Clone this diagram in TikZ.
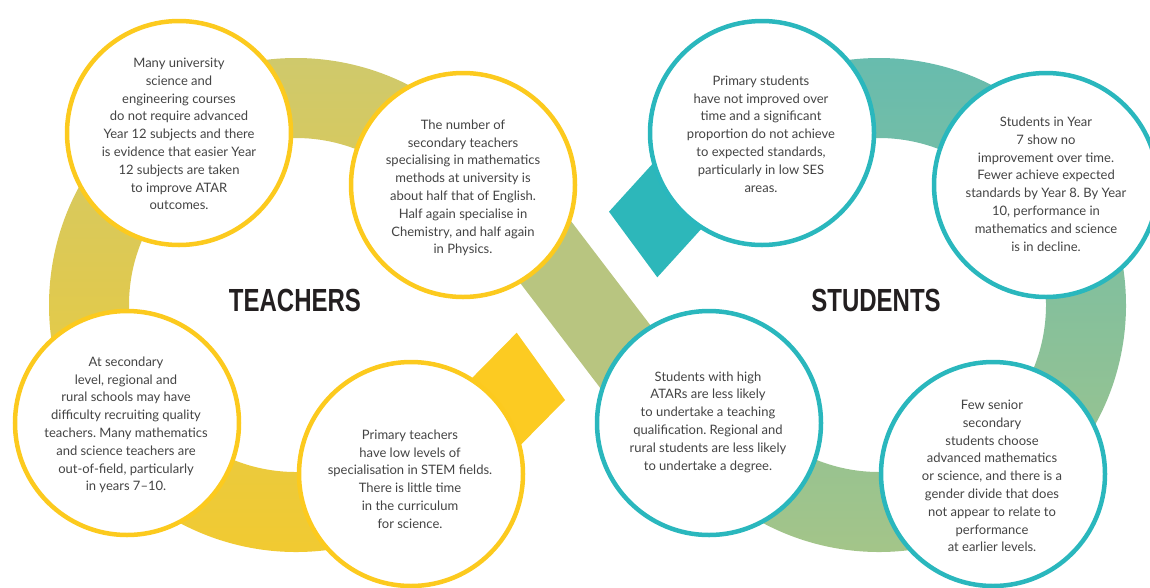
\documentclass[tikz,border=0pt]{standalone}
\usepackage{fontspec}
\setmainfont{Lato}
\newfontfamily\titlefont{Liberation Sans}
\usepackage{graphicx}
\definecolor{tyel}{HTML}{FCCA1E}
\definecolor{tteal}{HTML}{2AB7BD}
\definecolor{ringTtop}{HTML}{CDC96F}
\definecolor{ringTbot}{HTML}{F2CA30}
\definecolor{ringStop}{HTML}{64BBB0}
\definecolor{ringSbot}{HTML}{A5C588}
\definecolor{crossband}{HTML}{B8C580}
\definecolor{yend}{HTML}{FCCB22}
\definecolor{tend}{HTML}{2DB7BA}
\definecolor{txt}{HTML}{444444}
\definecolor{ttl}{HTML}{231F20}
\begin{document}
\frenchspacing
\begin{tikzpicture}[x=1pt,y=-1pt,
  bubble/.style={circle, minimum size=224, inner sep=0, line width=4.5, fill=white},
  ybub/.style={bubble, draw=tyel},
  tbub/.style={bubble, draw=tteal},
  body/.style={align=center, font=\fontsize{13}{17.8}\selectfont\frenchspacing, text=txt, inner sep=0},
  title/.style={font=\titlefont\bfseries\fontsize{32}{32}\selectfont, text=ttl, inner sep=0}]
\useasboundingbox (0,0) rectangle (1150,587);
\clip (0,0) rectangle (1150,587);
% rings
\begin{scope}[shift={(296,305)}]
\shade[top color=ringTtop, bottom color=ringTbot] (-40:247) arc[start angle=-40,end angle=-320,radius=247] -- (-320:167) arc[start angle=-320,end angle=-40,radius=167] -- cycle;
\end{scope}
\begin{scope}[shift={(879,305)}]
\shade[top color=ringStop, bottom color=ringSbot] (-140:247) arc[start angle=-140,end angle=140,radius=247] -- (140:167) arc[start angle=140,end angle=-140,radius=167] -- cycle;
\end{scope}
% crossing band
\fill[crossband] (538.2,178.1) -- (695.8,384.8) -- (633.8,432) -- (476.2,225.3) -- cycle;
% band ends
\fill[yend] (516.7,332.7) -- (565,400) -- (495,471) -- (446.7,403.7) -- cycle;
\fill[tend] (609,211.7) -- (657.3,277.3) -- (724.6,203.3) -- (676.3,137.7) -- cycle;
% bubbles
\node[ybub] (c1) at (179,133) {};
\node[ybub] (c2) at (463,185) {};
\node[ybub] (c3) at (127,423) {};
\node[ybub] (c4) at (411,474) {};
\node[tbub] (c5) at (762,133) {};
\node[tbub] (c6) at (1046,185) {};
\node[tbub] (c7) at (709,423) {};
\node[tbub] (c8) at (993,474) {};
% texts
\node[body] (t1) at (179,134) {Many university\\science and\\engineering courses\\do not require advanced\\Year 12 subjects and there\\is evidence that easier Year\\12 subjects are taken\\to improve ATAR\\outcomes.};
\node[body] (t2) at (463,188) {The number of\\secondary teachers\\specialising in mathematics\\methods at university is\\about half that of English.\\Half again specialise in\\Chemistry, and half again\\in Physics.};
\node[body] (t3) at (126,425) {At secondary\\level, regional and\\rural schools may have\\difficulty recruiting quality\\teachers. Many mathematics\\and science teachers are\\out-of-field, particularly\\in years 7--10.};
\node[body] (t4) at (410,479) {Primary teachers\\have low levels of\\specialisation in STEM fields.\\There is little time\\in the curriculum\\for science.};
\node[body] (t5) at (761,134) {Primary students\\have not improved over\\time and a significant\\proportion do not achieve\\to expected standards,\\particularly in low SES\\areas.};
\node[body] (t6) at (1046,184) {Students in Year\\7 show no\\improvement over time.\\Fewer achieve expected\\standards by Year 8. By Year\\10, performance in\\mathematics and science\\is in decline.};
\node[body] (t7) at (708,422) {Students with high\\ATARs are less likely\\to undertake a teaching\\qualification. Regional and\\rural students are less likely\\to undertake a degree.};
\node[body] (t8) at (992,476) {Few senior\\secondary\\students choose\\advanced mathematics\\or science, and there is a\\gender divide that does\\not appear to relate to\\performance\\at earlier levels.};
% titles
\node[title] (teach) at (295,300) {\scalebox{0.75}[1]{TEACHERS}};
\node[title] (stud) at (876,300) {\scalebox{0.75}[1]{STUDENTS}};
\end{tikzpicture}
\end{document}
